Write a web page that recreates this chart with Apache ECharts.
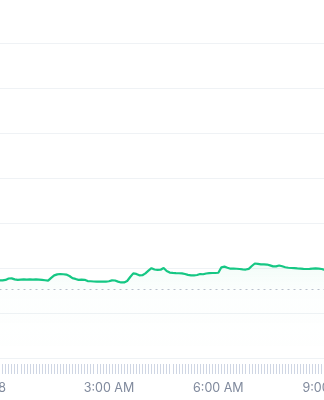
<!DOCTYPE html>
<html>
<head>
<meta charset="utf-8">
<script src="https://cdn.jsdelivr.net/npm/echarts@6/dist/echarts.min.js"></script>
<style>
html,body{margin:0;padding:0;background:#fff;overflow:hidden;width:324px;height:400px;}
#c{position:absolute;left:-38px;top:0;width:400px;height:400px;}
</style>
</head>
<body>
<div id="c"></div>
<script>
// categories: 5-minute steps from 12:00 AM to 9:00 AM
const tickLabels = ['18', '3:00 AM', '6:00 AM', '9:00 AM'];
const categories = [];
for (let m = 0; m <= 540; m += 5) {
  const h = Math.floor(m / 60), mm = m % 60;
  const hh = h === 0 ? 12 : h;
  categories.push(hh + ':' + String(mm).padStart(2, '0') + ' AM');
}
const prices = [
  1.726,1.726,1.736,1.767,1.770,1.747,1.736,1.742,1.747,1.741,
  1.748,1.741,1.747,1.743,1.736,1.728,1.719,1.781,1.837,1.859,
  1.867,1.861,1.853,1.822,1.774,1.757,1.737,1.741,1.738,1.709,
  1.705,1.700,1.696,1.696,1.696,1.696,1.706,1.724,1.722,1.698,
  1.679,1.679,1.711,1.800,1.881,1.868,1.837,1.840,1.881,1.941,
  1.997,1.967,1.957,1.961,2.000,1.933,1.898,1.892,1.887,1.883,
  1.881,1.867,1.848,1.838,1.837,1.844,1.867,1.861,1.878,1.887,
  1.889,1.889,1.894,2.015,2.030,2.007,1.985,1.985,1.983,1.978,
  1.970,1.966,1.981,2.044,2.100,2.091,2.081,2.081,2.077,2.059,
  2.037,2.037,2.056,2.039,2.017,2.005,2.000,1.996,1.991,1.987,
  1.982,1.978,1.982,1.987,1.991,1.988,1.978,1.959
];
const referencePrice = 1.533;

const chart = echarts.init(document.getElementById('c'), null, {renderer: 'canvas'});
chart.setOption({
  animation: false,
  grid: [
    {left: 37.5, right: 34.2, top: 43, bottom: 42, containLabel: false},
    {left: 37.5, right: 34.2, top: 354, bottom: 36, containLabel: false}
  ],
  xAxis: [{
    type: 'category',
    gridIndex: 0,
    boundaryGap: false,
    data: categories,
    axisLine: {show: false},
    axisTick: {show: false},
    axisLabel: {show: false},
    splitLine: {show: false}
  }, {
    type: 'category',
    gridIndex: 1,
    boundaryGap: false,
    data: categories,
    axisLine: {show: false},
    axisTick: {show: true, interval: 0, length: 10, lineStyle: {color: '#cfd6e4', width: 1}},
    axisLabel: {
      interval: 35,
      margin: 18,
      color: '#808a9d',
      fontFamily: 'Inter',
      fontSize: 12.5,
      formatter: function (v, i) { return i % 36 === 0 ? tickLabels[i / 36] : ''; }
    },
    splitLine: {show: false}
  }],
  yAxis: [{
    type: 'value',
    gridIndex: 0,
    min: 0, max: 7, interval: 1,
    axisLine: {show: false},
    axisTick: {show: false},
    axisLabel: {show: false},
    splitLine: {lineStyle: {color: '#eff2f5', width: 1}}
  }, {
    type: 'value',
    gridIndex: 1,
    show: false,
    splitLine: {show: false}
  }],
  series: [{
    type: 'line',
    xAxisIndex: 0,
    yAxisIndex: 0,
    data: prices,
    showSymbol: false,
    lineStyle: {color: '#16c784', width: 2.2},
    itemStyle: {color: '#16c784'},
    areaStyle: {
      color: new echarts.graphic.LinearGradient(0, 0, 0, 1, [
        {offset: 0, color: 'rgba(22,199,132,0.08)'},
        {offset: 0.3, color: 'rgba(22,199,132,0.015)'},
        {offset: 1, color: 'rgba(22,199,132,0)'}
      ])
    },
    markLine: {
      silent: true,
      symbol: 'none',
      label: {show: false},
      lineStyle: {color: '#b8c0cc', type: [2, 4], width: 1},
      data: [{yAxis: referencePrice}]
    }
  }]
});
</script>
</body>
</html>
